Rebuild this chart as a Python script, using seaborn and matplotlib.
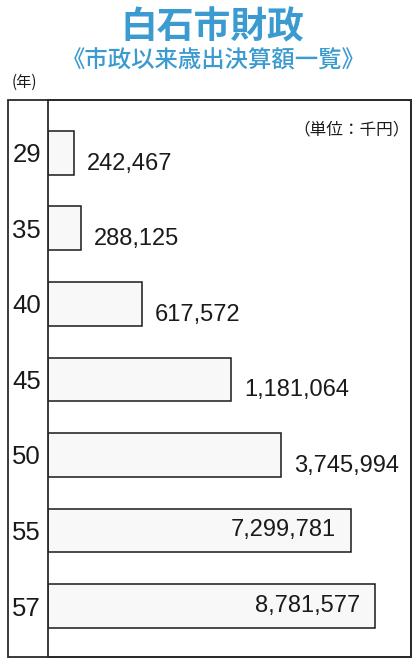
import matplotlib.pyplot as plt
import matplotlib.patches as patches
import pandas as pd
import seaborn as sns

years = ["29", "35", "40", "45", "50", "55", "57"]
amounts = [242467, 288125, 617572, 1181064, 3745994, 7299781, 8781577]
# the original bars are not drawn to scale; lengths as drawn, longest bar = 100
drawn_length = [8.0, 10.1, 28.7, 56.0, 71.3, 92.7, 100.0]

title = "白石市財政"
subtitle = "《市政以来歳出決算額一覧》"
unit_label = "（単位：千円）"
year_label = "(年)"

df = pd.DataFrame({"year": years, "amount": amounts, "length": drawn_length})

sns.set_theme(style="white")
plt.rcParams["font.family"] = ["Noto Sans CJK JP", "DejaVu Sans"]
num_font = ["Liberation Sans", "DejaVu Sans"]

W, H = 414, 661
fig = plt.figure(figsize=(W / 100, H / 100), dpi=100)
fig.patch.set_facecolor("white")

ax = fig.add_axes([48 / W, 1 - 657 / H, (411 - 48) / W, (657 - 100) / H])

sns.barplot(
    data=df, x="length", y="year", order=years, orient="h",
    width=0.58, color="#f8f8f8", saturation=1,
    edgecolor="#1a1a1a", linewidth=1.1, ax=ax
)

ax.set_xlim(0, 111)
ax.set_ylim(6.675, -0.70)
ax.set_xticks([])
ax.set_xlabel("")
ax.set_ylabel("")
ax.tick_params(axis="y", length=0, pad=5)
for lab in ax.get_yticklabels():
    lab.set_fontfamily(num_font)
    lab.set_fontsize(18.5)
    lab.set_color("#1a1a1a")

for s in ax.spines.values():
    s.set_visible(True)
    s.set_color("#2a2a2a")
    s.set_linewidth(1.3)

# value labels
for i, (amt, L) in enumerate(zip(amounts, drawn_length)):
    txt = f"{amt:,}"
    if L > 85:
        ax.annotate(txt, xy=(L, i), xytext=(-15 * 0.72, 0), textcoords="offset points",
                    ha="right", va="center", fontsize=17, family=num_font, color="#1a1a1a")
    else:
        ax.annotate(txt, xy=(L, i), xytext=(13 * 0.72, -11 * 0.72), textcoords="offset points",
                    ha="left", va="center", fontsize=17, family=num_font, color="#1a1a1a")

# outer frame including the year column
fig.add_artist(patches.Rectangle((8 / W, 1 - 657 / H), (411 - 8) / W, (657 - 100) / H,
                                 transform=fig.transFigure, fill=False,
                                 lw=1.3, ec="#2a2a2a"))

fig.text(212 / W, 1 - 28 / H, title, ha="center", va="center",
         fontsize=26.5, fontweight="bold", color="#3b9bd0")
fig.text(214 / W, 1 - 61 / H, subtitle, ha="center", va="center",
         fontsize=16.8, fontweight="medium", color="#3b9bd0")
fig.text(12 / W, 1 - 82 / H, year_label, ha="left", va="center",
         fontsize=11, color="#1a1a1a")
fig.text(410 / W, 1 - 130 / H, unit_label, ha="right", va="center",
         fontsize=12, color="#1a1a1a")

fig.savefig("out.png", dpi=100)
